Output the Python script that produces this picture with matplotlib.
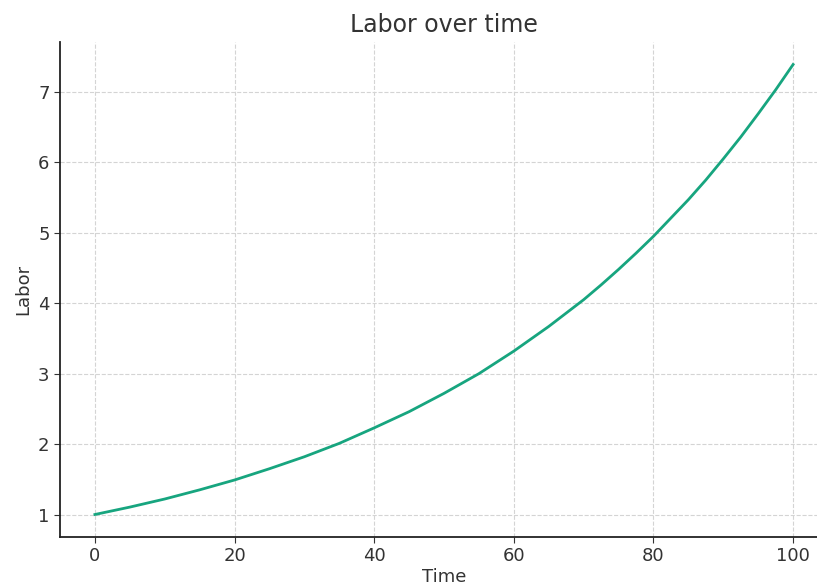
import matplotlib
matplotlib.use("Agg")
import matplotlib.pyplot as plt

# values
time = [0, 5, 10, 15, 20, 25, 30, 35, 40, 45, 50, 55, 60,
        65, 70, 72.5, 75, 77.5, 80, 82.5, 85, 87.5, 90, 92.5, 95, 97.5, 100]
labor = [1.00, 1.105, 1.22, 1.35, 1.49, 1.65, 1.82, 2.01, 2.23, 2.46, 2.72, 3.00, 3.32,
         3.67, 4.05, 4.26, 4.48, 4.71, 4.95, 5.21, 5.47, 5.75, 6.05, 6.36, 6.69, 7.03, 7.39]

fig = plt.figure(figsize=(8.17, 5.87), dpi=100)
ax = fig.add_axes([60 / 817, 50 / 587, 768 / 817, 495 / 587])

ax.plot(time, labor, color="#17a57f", linewidth=2)

ax.set_title("Labor over time", fontsize=17, color="#333333", pad=7)
ax.set_xlabel("Time", fontsize=13, color="#333333", labelpad=2)
ax.set_ylabel("Labor", fontsize=13, color="#333333")
ax.set_xticks([0, 20, 40, 60, 80, 100])
ax.set_yticks([1, 2, 3, 4, 5, 6, 7])
ax.tick_params(labelsize=13, colors="#333333", length=4)
ax.grid(True, linestyle="--", color="#d4d4d4", linewidth=0.8)
ax.spines["top"].set_visible(False)
ax.spines["right"].set_visible(False)
ax.spines["left"].set_linewidth(1.3)
ax.spines["bottom"].set_linewidth(1.3)
ax.spines["left"].set_color("#222222")
ax.spines["bottom"].set_color("#222222")

fig.savefig("out.png", dpi=100)
